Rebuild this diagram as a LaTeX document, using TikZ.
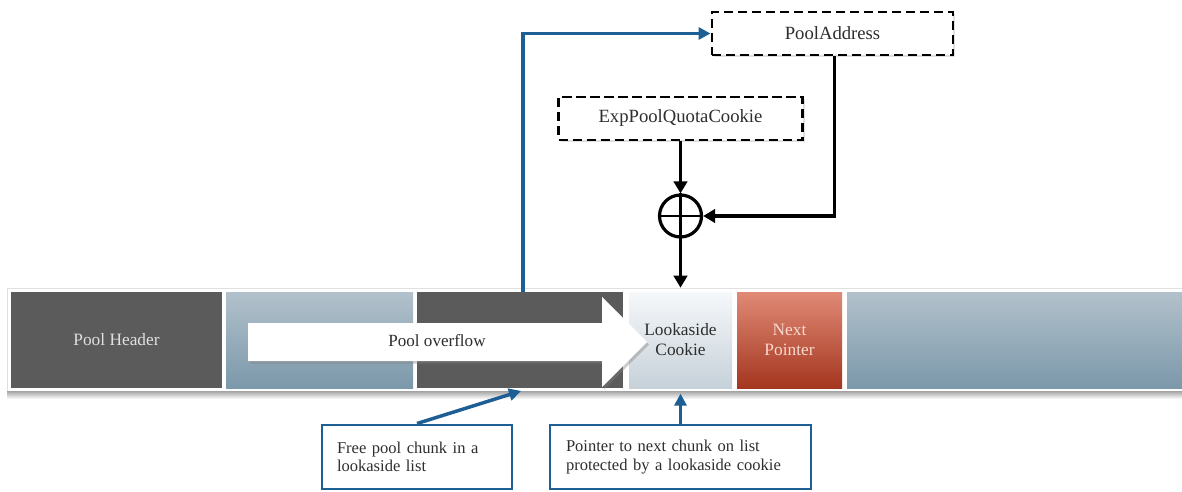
\documentclass[tikz,border=0pt]{standalone}
\usepackage{fontspec}
\setmainfont{Liberation Serif}
\usetikzlibrary{arrows.meta,shadows,calc}

\definecolor{chunkdark}{HTML}{5B5B5B}
\definecolor{slatetop}{HTML}{B2C1CB}
\definecolor{slatebot}{HTML}{7B98AA}
\definecolor{cookietop}{HTML}{F6F8FA}
\definecolor{cookiebot}{HTML}{C6D1D9}
\definecolor{redtop}{HTML}{E08A76}
\definecolor{redbot}{HTML}{A4361F}
\definecolor{redtext}{HTML}{F7D9D0}
\definecolor{linkblue}{HTML}{1D5F94}
\definecolor{inktext}{HTML}{2E2E2E}

\newcommand\pxl{0.75pt}

\tikzset{
  block/.style={draw=none, inner sep=0pt, minimum height=96*\pxl, align=center,
                font=\fontsize{13}{15}\selectfont},
  darkblock/.style={block, fill=chunkdark, text=black!12},
  slateblock/.style={block, top color=slatetop, bottom color=slatebot},
  cookieblock/.style={block, top color=cookietop, bottom color=cookiebot, text=inktext},
  redblock/.style={block, top color=redtop, bottom color=redbot, text=redtext},
  dashbox/.style={draw=black, fill=white, line width=2.2pt,
                  dash pattern=on 7pt off 3.5pt, minimum height=43*\pxl, inner sep=0pt,
                  font=\fontsize{14}{16}\selectfont, text=inktext,
                  drop shadow={opacity=0.25, shadow xshift=1.5pt, shadow yshift=-1.5pt}},
  callout/.style={draw=linkblue, fill=white, line width=2.2pt, minimum height=64*\pxl,
                  inner ysep=0pt, align=left, text=inktext,
                  font=\fontsize{12.4}{14}\selectfont},
  flow/.style={line width=2.7pt, -{Triangle[length=9pt,width=10pt]}},
  bluelink/.style={draw=linkblue, line width=2.6pt, -{Triangle[length=9pt,width=9pt]}},
}

\begin{document}
\begin{tikzpicture}[x=0.75pt, y=-0.75pt]
  \useasboundingbox (0,0) rectangle (1182,492);

  % soft shadow and white frame of the memory strip
  \fill[top color=black!45, bottom color=white] (7,389) rectangle (1182,399);
  \fill[white] (7,288) rectangle (1182,391);
  \draw[black!12, line width=0.6pt] (7,391) -- (7,288) -- (1182,288);

  % memory strip: pool chunks
  \node[darkblock,   minimum width=211*\pxl] (hdr)    at (116.5,340) {Pool Header};
  \node[slateblock,  minimum width=187*\pxl] (fill1)  at (319.5,340) {};
  \node[darkblock,   minimum width=206*\pxl] (free)   at (520,340) {};
  \node[cookieblock, minimum width=103*\pxl] (cookie) at (680.5,340) {Lookaside\\Cookie};
  \node[redblock,    minimum width=105*\pxl] (nextp)  at (789.5,340) {Next\\Pointer};
  \node[slateblock,  minimum width=335*\pxl] (rest)   at (1014.5,340) {};

  % overflow arrow running across the chunks
  \fill[white, drop shadow={opacity=0.4, shadow xshift=1.5pt, shadow yshift=-2pt}]
    (248,323) -- (602,323) -- (602,297) -- (647,342) -- (602,387) -- (602,361)
    -- (248,361) -- cycle;
  \node[text=inktext, font=\fontsize{12.8}{14}\selectfont] (ovf) at (437,341) {Pool overflow};

  % cookie derivation
  \node[dashbox, minimum width=241*\pxl] (paddr) at (832.5,33.5) {PoolAddress};
  \node[dashbox, minimum width=244*\pxl] (expc)  at (680.5,118.5) {ExpPoolQuotaCookie};
  \node[circle, draw=black, line width=2.4pt, minimum size=42*\pxl, inner sep=0pt]
    (xor) at (680.5,216) {};
  \draw[line width=1.8pt] (xor.north) -- (xor.south) (xor.west) -- (xor.east);

  \draw[flow] (expc.south) -- (xor.north);
  \draw[flow] ([xshift=2*\pxl]paddr.south) |- (xor.east);
  \draw[flow, shorten >=3pt] (xor.south) -- (cookie.north);

  % pool address taken from the free chunk
  \draw[bluelink] ([xshift=3*\pxl]free.north) |- (paddr.west);

  % callouts
  \node[callout, minimum width=190*\pxl, text width=160*\pxl, inner xsep=15*\pxl]
    (box1) at (417,457) {Free pool chunk in a\\lookaside list};
  \node[callout, minimum width=261*\pxl, text width=229*\pxl, inner xsep=16*\pxl]
    (box2) at (680.5,457) {Pointer to next chunk on list\\protected by a lookaside cookie};

  \draw[bluelink] (box1.north) -- ([xshift=1*\pxl, yshift=-2pt]free.south);
  \draw[bluelink] (box2.north) -- ([yshift=-4pt]cookie.south);
\end{tikzpicture}
\end{document}
